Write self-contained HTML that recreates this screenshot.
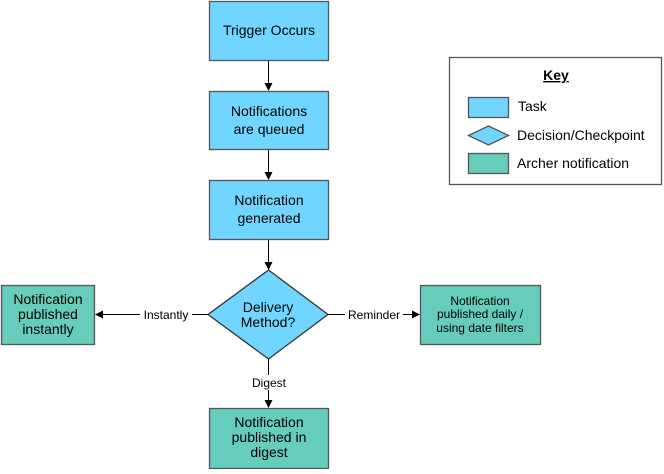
<!DOCTYPE html>
<html><head><style>body{margin:0;background:#fff}</style></head><body>
<svg width="664" height="469" xmlns="http://www.w3.org/2000/svg" font-family="Liberation Sans, Arial, sans-serif">
<defs><marker id="a" markerWidth="8" markerHeight="8" refX="7" refY="4" orient="auto" markerUnits="userSpaceOnUse"><path d="M0,0 L8,4 L0,8z" fill="#000"/></marker></defs>
<g stroke="#555" stroke-width="1.3">
<rect x="209.5" y="1.5" width="119" height="59" fill="#70d6ff"/>
<rect x="209.5" y="91.5" width="119" height="58" fill="#70d6ff"/>
<rect x="209.5" y="180.5" width="119" height="59" fill="#70d6ff"/>
<path d="M268.5,270 L328,314.5 L268.5,359 L208,314.5z" fill="#70d6ff" stroke="#333"/>
<rect x="1.5" y="285.5" width="93" height="59" fill="#66ccbb"/>
<rect x="420.5" y="285.5" width="120" height="59" fill="#66ccbb"/>
<rect x="209.5" y="408.5" width="119" height="60" fill="#66ccbb"/>
<rect x="449.5" y="57.5" width="212" height="127" fill="#fff"/>
<rect x="468.5" y="97.5" width="40" height="20" fill="#70d6ff"/>
<path d="M468.5,135.5 L488.5,126 L508.5,135.5 L488.5,145z" fill="#70d6ff"/>
<rect x="468.5" y="153.5" width="40" height="20" fill="#66ccbb"/>
</g>
<g stroke="#000" stroke-width="1" fill="none">
<line x1="268.5" y1="61" x2="268.5" y2="90" marker-end="url(#a)"/>
<line x1="268.5" y1="150" x2="268.5" y2="179" marker-end="url(#a)"/>
<line x1="268.5" y1="240" x2="268.5" y2="269" marker-end="url(#a)"/>
<line x1="268.5" y1="359" x2="268.5" y2="407" marker-end="url(#a)"/>
<line x1="208" y1="314.5" x2="96" y2="314.5" marker-end="url(#a)"/>
<line x1="328" y1="314.5" x2="419" y2="314.5" marker-end="url(#a)"/>
</g>
<g font-size="14" text-anchor="middle" fill="#000">
<text x="269" y="35">Trigger Occurs</text>
<text x="269" y="116">Notifications</text><text x="269" y="134">are queued</text>
<text x="269" y="205">Notification</text><text x="269" y="223">generated</text>
<text x="268" y="312">Delivery</text><text x="268" y="327">Method?</text>
<text x="48" y="304">Notification</text><text x="48" y="319">published</text><text x="48" y="334">instantly</text>
<text x="269" y="427">Notification</text><text x="269" y="442">published in</text><text x="269" y="457">digest</text>
</g>
<g font-size="12" text-anchor="middle" fill="#000">
<rect x="140" y="307" width="52" height="15" fill="#fff"/>
<text x="166" y="319">Instantly</text>
<rect x="345" y="307" width="58" height="15" fill="#fff"/>
<text x="374" y="319">Reminder</text>
<rect x="249" y="375" width="40" height="15" fill="#fff"/>
<text x="269" y="387">Digest</text>
<text x="480" y="305">Notification</text><text x="480" y="318">published daily /</text><text x="480" y="332">using date filters</text>
</g>
<g font-size="14" fill="#000">
<text x="556" y="80" text-anchor="middle" font-weight="bold" text-decoration="underline">Key</text>
<text x="518" y="111">Task</text>
<text x="517" y="140">Decision/Checkpoint</text>
<text x="517" y="168">Archer notification</text>
</g>
</svg>
</body></html>
